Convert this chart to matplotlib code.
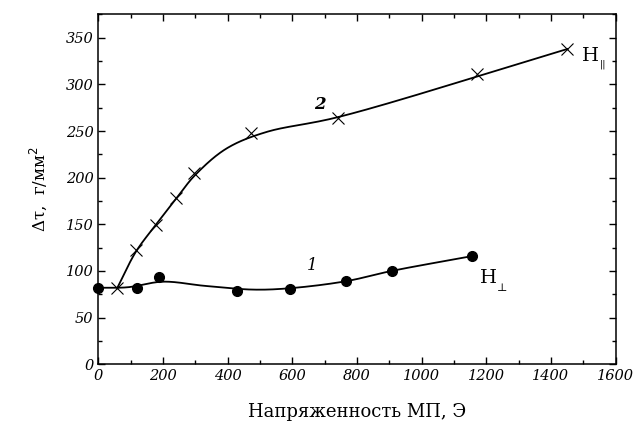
import numpy as np
import matplotlib
matplotlib.use("Agg")
import matplotlib.pyplot as plt
from matplotlib.ticker import MultipleLocator

# measured points, curve 1 (H perpendicular)
perp_x = [0, 119, 188, 430, 593, 766, 907, 1157]
perp_y = [82, 82, 93, 78, 81, 89, 100, 116]
# smoothed fit line, curve 1
perp_fit_x = [0, 90, 200, 330, 480, 593, 766, 907, 1157]
perp_fit_y = [82, 82.5, 88.5, 84, 80, 81.5, 89, 100, 116]

# measured points, curve 2 (H parallel)
par_x = [59, 117, 177, 240, 296, 472, 742, 1170, 1451]
par_y = [82, 122, 149, 178, 205, 248, 264, 311, 338]
# smoothed fit line, curve 2
par_fit_x = [59, 117, 177, 240, 300, 400, 520, 742, 1451]
par_fit_y = [82, 121, 149, 177, 203, 232, 249, 265, 338]

SERIF = ["DejaVu Serif"]


def smooth(xs, ys, sx=1600.0, sy=375.0, n=40):
    """Centripetal Catmull-Rom through the fit points, for a smooth stroke."""
    p = np.column_stack([np.asarray(xs, float) / sx, np.asarray(ys, float) / sy])
    p = np.vstack([2 * p[0] - p[1], p, 2 * p[-1] - p[-2]])
    out = []
    for i in range(1, len(p) - 2):
        p0, p1, p2, p3 = p[i - 1], p[i], p[i + 1], p[i + 2]
        t0 = 0.0
        t1 = t0 + np.linalg.norm(p1 - p0) ** 0.5
        t2 = t1 + np.linalg.norm(p2 - p1) ** 0.5
        t3 = t2 + np.linalg.norm(p3 - p2) ** 0.5
        t = np.linspace(t1, t2, n)[:, None]
        a1 = (t1 - t) / (t1 - t0) * p0 + (t - t0) / (t1 - t0) * p1
        a2 = (t2 - t) / (t2 - t1) * p1 + (t - t1) / (t2 - t1) * p2
        a3 = (t3 - t) / (t3 - t2) * p2 + (t - t2) / (t3 - t2) * p3
        b1 = (t2 - t) / (t2 - t0) * a1 + (t - t0) / (t2 - t0) * a2
        b2 = (t3 - t) / (t3 - t1) * a2 + (t - t1) / (t3 - t1) * a3
        c = (t2 - t) / (t2 - t1) * b1 + (t - t1) / (t2 - t1) * b2
        out.append(c)
    c = np.vstack(out)
    return c[:, 0] * sx, c[:, 1] * sy


fig = plt.figure(figsize=(6.34, 4.26), dpi=100)
ax = fig.add_axes([0.155, 0.145, 0.816, 0.821])

lx, ly = smooth(perp_fit_x, perp_fit_y)
ax.plot(lx, ly, color="black", lw=1.3)
ax.plot(perp_x, perp_y, "o", color="black", ms=7, clip_on=False)

lx, ly = smooth(par_fit_x, par_fit_y)
ax.plot(lx, ly, color="black", lw=1.3)
ax.plot(par_x, par_y, "x", color="black", ms=9, mew=0.8)

ax.set_xlim(0, 1600)
ax.set_ylim(0, 375)
ax.xaxis.set_major_locator(MultipleLocator(200))
ax.xaxis.set_minor_locator(MultipleLocator(100))
ax.yaxis.set_major_locator(MultipleLocator(50))
ax.yaxis.set_minor_locator(MultipleLocator(25))
ax.tick_params(which="both", direction="in", top=True, right=True, width=1)
ax.tick_params(which="major", length=5)
ax.tick_params(which="minor", length=3)
for spine in ax.spines.values():
    spine.set_linewidth(1.1)
for lab in ax.get_xticklabels() + ax.get_yticklabels():
    lab.set_family(SERIF)
    lab.set_style("italic")
    lab.set_fontsize(10.5)

ax.set_xlabel("Напряженность МП, Э", family=SERIF, fontsize=13, labelpad=14)
ax.set_ylabel("Δτ,  г/мм$^2$", family=SERIF, fontsize=12, labelpad=12)

ax.text(686, 278, "2", family=SERIF, style="italic", weight="bold", fontsize=12,
        ha="center", va="center")
ax.text(660, 106, "1", family=SERIF, style="italic", fontsize=12,
        ha="center", va="center")
ax.text(1495, 331, "H", family=SERIF, fontsize=14, ha="left", va="center")
ax.text(1550, 322, "||", family=SERIF, fontsize=7, ha="left", va="center")
ax.text(1180, 92, "H", family=SERIF, fontsize=14, ha="left", va="center")
ax.text(1232, 82, "⊥", family=SERIF, fontsize=8, ha="left", va="center")

fig.savefig("out.png", dpi=100)
